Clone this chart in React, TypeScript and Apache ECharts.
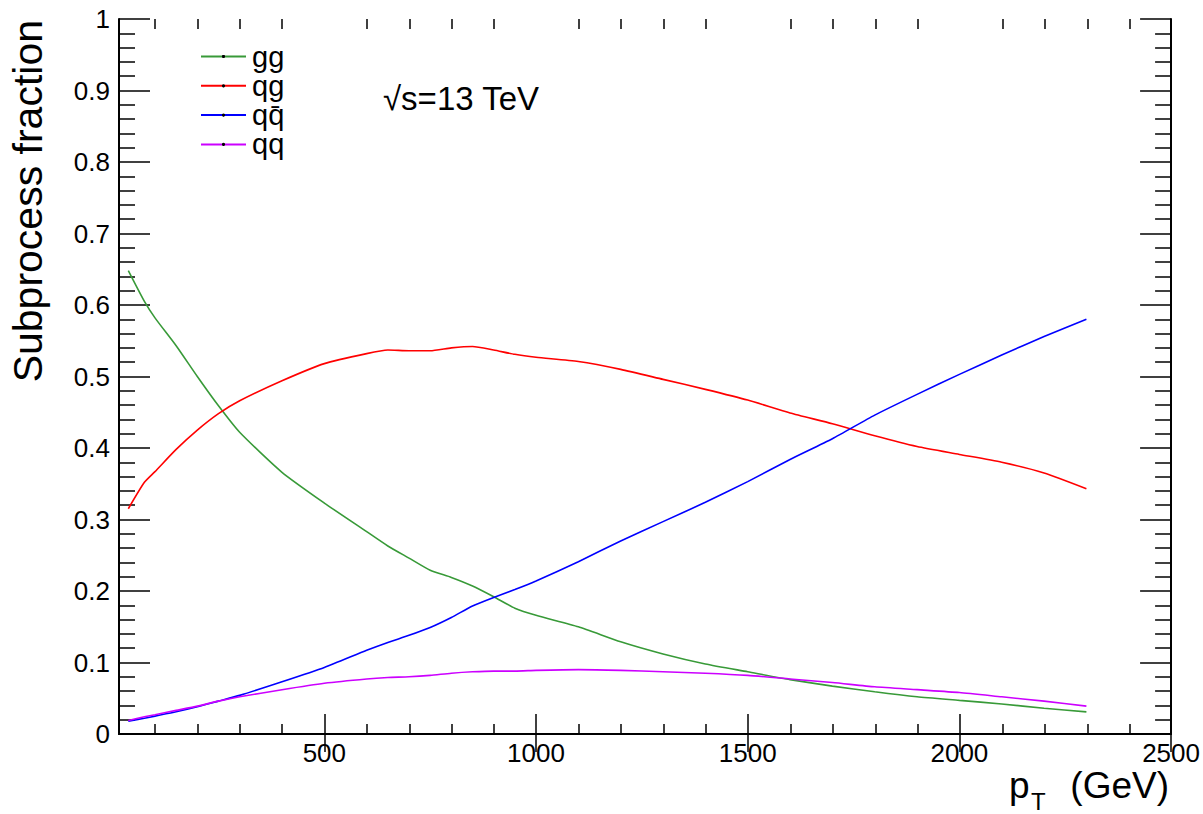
import React, { useEffect, useRef } from "react";
import * as echarts from "echarts";

// pT values (GeV) at which the fractions are read
const PT = [37, 75, 100, 150, 200, 250, 300, 400, 500, 600, 650, 700, 750, 800, 850, 900, 950, 1000, 1100, 1200, 1300, 1400, 1500, 1600, 1700, 1800, 1900, 2000, 2100, 2200, 2300];
const GG = [0.648, 0.605, 0.582, 0.543, 0.500, 0.459, 0.422, 0.366, 0.323, 0.283, 0.263, 0.246, 0.229, 0.219, 0.207, 0.192, 0.176, 0.166, 0.150, 0.129, 0.112, 0.098, 0.087, 0.076, 0.067, 0.059, 0.052, 0.047, 0.042, 0.036, 0.031];
const QG = [0.315, 0.352, 0.367, 0.398, 0.425, 0.448, 0.466, 0.494, 0.518, 0.532, 0.537, 0.536, 0.536, 0.540, 0.542, 0.537, 0.531, 0.527, 0.521, 0.510, 0.496, 0.482, 0.467, 0.449, 0.434, 0.417, 0.402, 0.391, 0.380, 0.365, 0.343];
const QQBAR = [0.018, 0.022, 0.025, 0.031, 0.038, 0.046, 0.054, 0.073, 0.093, 0.117, 0.128, 0.138, 0.149, 0.163, 0.179, 0.191, 0.202, 0.214, 0.241, 0.270, 0.297, 0.324, 0.353, 0.384, 0.413, 0.446, 0.475, 0.503, 0.530, 0.556, 0.580];
const QQ = [0.019, 0.024, 0.027, 0.033, 0.039, 0.046, 0.052, 0.062, 0.071, 0.077, 0.079, 0.080, 0.082, 0.085, 0.087, 0.088, 0.088, 0.089, 0.090, 0.089, 0.087, 0.085, 0.082, 0.077, 0.072, 0.066, 0.062, 0.058, 0.052, 0.046, 0.039];

const SERIES_NAMES = ["gg", "qg", "qq\u0304", "qq"];
const SERIES_COLORS = ["#389a38", "#ff0000", "#0000ff", "#cc00ff"];

const X_MIN = 15;
const X_MAX = 2500;
const X_MAJOR = [500, 1000, 1500, 2000, 2500];
const X_MINOR = [100, 200, 300, 400, 600, 700, 800, 900, 1100, 1200, 1300, 1400, 1600, 1700, 1800, 1900, 2100, 2200, 2300, 2400];
const Y_MIN = 0;
const Y_MAX = 1;
const Y_STEP = 0.1;

const FONT = "'Liberation Sans', Arial, Helvetica, sans-serif";

export default function App() {
  const ref = useRef<HTMLDivElement>(null);
  useEffect(() => {
    if (!ref.current) return;
    const chart = echarts.init(ref.current, undefined, { renderer: "svg" });
    const grid = { left: 119, top: 19, right: 31, bottom: 80, containLabel: false };
    const axisLine = { show: true, lineStyle: { color: "#000", width: 2 } };
    const tickStyle = { color: "#000", width: 1.5 };
    const seriesData = [GG, QG, QQBAR, QQ];
    chart.setOption({
      animation: false,
      backgroundColor: "#fff",
      grid: [grid, grid],
      legend: {
        orient: "vertical",
        left: 195,
        top: 29,
        itemWidth: 45,
        itemHeight: 4,
        itemGap: -15.7,
        selectedMode: false,
        data: SERIES_NAMES,
        textStyle: { fontSize: 29, lineHeight: 29, color: "#000", fontFamily: FONT, padding: [0, 0, 16, 1] },
      },
      xAxis: [
        {
          type: "value", gridIndex: 0, position: "bottom", min: X_MIN, max: X_MAX,
          axisLine, splitLine: { show: false },
          axisTick: { show: true, inside: true, length: 20, customValues: X_MAJOR, lineStyle: tickStyle },
          axisLabel: { show: true, customValues: X_MAJOR, fontSize: 26, color: "#000", margin: 6, fontFamily: FONT, formatter: (v: number) => String(v) },
        },
        {
          type: "value", gridIndex: 0, position: "top", min: X_MIN, max: X_MAX,
          axisLine, splitLine: { show: false },
          axisTick: { show: true, inside: true, length: 18, customValues: X_MAJOR, lineStyle: tickStyle },
          axisLabel: { show: false },
        },
        {
          type: "value", gridIndex: 1, position: "bottom", min: X_MIN, max: X_MAX,
          axisLine: { show: false }, splitLine: { show: false },
          axisTick: { show: true, inside: true, length: 10, customValues: X_MINOR, lineStyle: tickStyle },
          axisLabel: { show: false },
        },
        {
          type: "value", gridIndex: 1, position: "top", min: X_MIN, max: X_MAX,
          axisLine: { show: false }, splitLine: { show: false },
          axisTick: { show: true, inside: true, length: 10, customValues: X_MINOR, lineStyle: tickStyle },
          axisLabel: { show: false },
        },
      ],
      yAxis: [
        {
          type: "value", gridIndex: 0, position: "left", min: Y_MIN, max: Y_MAX, interval: Y_STEP,
          axisLine, splitLine: { show: false },
          axisTick: { show: true, inside: true, length: 31, lineStyle: tickStyle },
          minorTick: { show: true, splitNumber: 5, length: 16, lineStyle: tickStyle },
          minorSplitLine: { show: false },
          axisLabel: { show: true, fontSize: 26, color: "#000", margin: 9, fontFamily: FONT },
        },
        {
          type: "value", gridIndex: 0, position: "right", min: Y_MIN, max: Y_MAX, interval: Y_STEP,
          axisLine, splitLine: { show: false },
          axisTick: { show: true, inside: true, length: 31, lineStyle: tickStyle },
          minorTick: { show: true, splitNumber: 5, length: 16, lineStyle: tickStyle },
          minorSplitLine: { show: false },
          axisLabel: { show: false },
        },
        { type: "value", gridIndex: 1, show: false, min: Y_MIN, max: Y_MAX },
      ],
      series: SERIES_NAMES.map((name, k) => ({
        name,
        type: "line",
        xAxisIndex: 0,
        yAxisIndex: 0,
        data: PT.map((x, i) => [x, seriesData[k][i]]),
        smooth: 0.2,
        symbol: "circle",
        symbolSize: 3,
        showSymbol: false,
        itemStyle: { color: "#000" },
        lineStyle: { color: SERIES_COLORS[k], width: 1.6 },
        emphasis: { disabled: true },
      })),
      graphic: [
        {
          type: "text", x: 383, y: 98,
          style: { text: "\u221As=13 TeV", font: `33px ${FONT}`, fill: "#000", align: "left", verticalAlign: "middle" },
        },
        {
          type: "text", x: 28, y: 20, rotation: Math.PI / 2,
          style: { text: "Subprocess fraction", font: `41px ${FONT}`, fill: "#000", align: "right", verticalAlign: "middle" },
        },
        {
          type: "text", x: 1009, y: 785,
          style: { text: "p", font: `37px ${FONT}`, fill: "#000", align: "left", verticalAlign: "middle" },
        },
        {
          type: "text", x: 1031, y: 801,
          style: { text: "T", font: `24px ${FONT}`, fill: "#000", align: "left", verticalAlign: "middle" },
        },
        {
          type: "text", x: 1169, y: 785,
          style: { text: "(GeV)", font: `37px ${FONT}`, fill: "#000", align: "right", verticalAlign: "middle" },
        },
      ],
    });
    return () => chart.dispose();
  }, []);
  return <div ref={ref} style={{ position: "fixed", left: 0, top: 0, width: 1203, height: 814 }} />;
}
